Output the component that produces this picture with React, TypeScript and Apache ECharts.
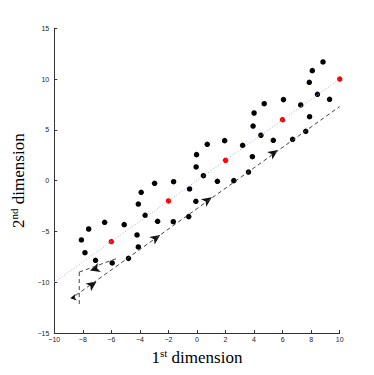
import React, { useEffect, useRef } from "react";
import * as echarts from "echarts";

// Black sample points [x, y]
const blackPoints: [number, number][] = [
  [-8.10, -5.84], [-7.59, -4.76], [-7.85, -7.09], [-7.11, -7.84], [-6.47, -4.10],
  [-5.94, -8.10], [-5.10, -4.33], [-4.80, -7.65], [-4.20, -5.35], [-4.11, -6.53],
  [-4.11, -2.30], [-3.91, -1.15], [-3.63, -3.41], [-2.97, -0.26], [-2.76, -4.00],
  [-1.64, -0.10], [-1.66, -4.04], [-0.58, -3.54], [-0.52, -0.82], [-0.08, -2.03],
  [-0.06, 1.35], [-0.03, 2.56], [0.45, 0.49], [0.72, 3.58], [1.43, -0.06],
  [1.94, 3.94], [2.58, 0.00], [3.20, 3.48], [3.61, 0.85], [3.88, 2.36],
  [3.93, 5.38], [4.00, 6.66], [4.48, 4.47], [4.71, 7.58], [5.35, 3.97],
  [6.06, 7.98], [6.70, 4.07], [7.27, 7.45], [7.62, 4.86], [7.89, 6.30],
  [7.87, 9.68], [8.08, 10.83], [8.44, 8.50], [8.83, 11.69], [9.29, 8.01],
];

// Red centre points
const redPoints: [number, number][] = [
  [-6, -6], [-2, -2], [2, 2], [6, 6], [10, 10],
];

// Dotted reference line y = x
const referenceLine: [number, number][] = [[-10, -10], [10, 10]];

// Dashed path segments
const pathLower: [number, number][] = [[-8.5, -11.3], [10, 7.3]];
const pathVertical: [number, number][] = [[-8.25, -9.0], [-8.25, -12.2]];
const pathUpper: [number, number][] = [[-8.25, -9.0], [-5.5, -7.6]];

// Arrow heads along the path [x, y] and their rotations (deg)
const arrowPoints: [number, number][] = [
  [-7.04, -9.94], [-2.58, -5.35], [1.04, -1.64], [5.67, 3.02], [-7.5, -8.85], [-8.88, -11.57],
];
const arrowAngles: number[] = [-55, -55, -55, -55, 108, 100];

const xTicks = { min: -10, max: 10, interval: 2 };
const yTicks = { min: -15, max: 15, interval: 5 };

const fmt = (v: number) => String(v).replace("-", "\u2212");

export default function App() {
  const ref = useRef<HTMLDivElement>(null);
  useEffect(() => {
    if (!ref.current) return;
    const chart = echarts.init(ref.current, undefined, { renderer: "svg" });
    const axisCommon = {
      axisLine: { onZero: false, lineStyle: { color: "#333", width: 1 } },
      axisTick: { inside: true, length: 3, lineStyle: { color: "#333" } },
      splitLine: { show: false },
      axisLabel: {
        color: "#222",
        fontSize: 7,
        fontFamily: "Liberation Sans",
        formatter: fmt,
      },
    };
    const rich = {
      n: { fontFamily: "Liberation Serif", fontSize: 17, color: "#000", lineHeight: 20 },
      s: { fontFamily: "Liberation Serif", fontSize: 11, color: "#000", lineHeight: 12, verticalAlign: "top" },
    };
    chart.setOption({
      animation: false,
      backgroundColor: "#fff",
      grid: { left: 48.7, right: 34.3, top: 28.3, bottom: 42 },
      xAxis: {
        type: "value",
        ...xTicks,
        ...axisCommon,
        axisLabel: { ...axisCommon.axisLabel, margin: 3 },
        name: "{n|1}{s|st}{n| dimension}",
        nameLocation: "middle",
        nameGap: 12,
        nameTextStyle: { rich },
      },
      yAxis: {
        type: "value",
        ...yTicks,
        ...axisCommon,
        axisLabel: { ...axisCommon.axisLabel, margin: 5 },
        name: "{n|2}{s|nd}{n| dimension}",
        nameLocation: "middle",
        nameGap: 18,
        nameRotate: 90,
        nameTextStyle: { rich },
      },
      series: [
        {
          type: "line",
          data: referenceLine,
          showSymbol: false,
          lineStyle: { color: "#a3adf7", width: 1, type: [1, 2] },
          silent: true,
        },
        {
          type: "line",
          data: pathLower,
          showSymbol: false,
          lineStyle: { color: "#444", width: 1, type: [4, 3] },
        },
        {
          type: "line",
          data: pathVertical,
          showSymbol: false,
          lineStyle: { color: "#444", width: 1, type: [4, 3] },
        },
        {
          type: "line",
          data: pathUpper,
          showSymbol: false,
          lineStyle: { color: "#444", width: 1, type: [4, 3] },
        },
        {
          type: "scatter",
          data: arrowPoints.map((p, i) => ({
            value: p,
            symbolRotate: arrowAngles[i],
            symbolSize: i === 5 ? [5, 6] : [7, 10],
          })),
          symbol: "arrow",
          itemStyle: { color: "#111", opacity: 1 },
        },
        {
          type: "scatter",
          data: blackPoints,
          symbolSize: 5.5,
          itemStyle: { color: "#000", opacity: 1 },
        },
        {
          type: "scatter",
          data: redPoints,
          symbolSize: 5.5,
          itemStyle: { color: "#ff0000", opacity: 1 },
        },
      ],
    });
    return () => chart.dispose();
  }, []);
  return (
    <div
      ref={ref}
      style={{ position: "absolute", left: 0, top: 0, width: 374, height: 375 }}
    />
  );
}
